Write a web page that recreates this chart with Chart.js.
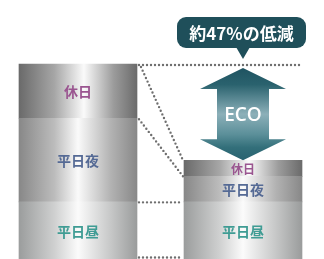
<!DOCTYPE html>
<html lang="ja">
<head>
<meta charset="utf-8">
<script src="https://cdn.jsdelivr.net/npm/chart.js@4"></script>
<style>
html, body { margin: 0; padding: 0; background: #fff; }
#wrap { width: 324px; height: 259px; }
</style>
</head>
<body>
<div id="wrap"><canvas id="ecoChart"></canvas></div>
<script>
// データ（左：従来、右：ECO）
const categories = ['従来', 'ECO'];
const segmentLabels = ['平日昼', '平日夜', '休日'];
const dayValues = [29.3, 29.3];
const nightValues = [42.9, 13.1];
const holidayValues = [27.8, 8.2];
const calloutText = '約47%の低減';
const arrowText = 'ECO';

const BAR_W = 118;
const FONT = '"Noto Sans CJK JP", "Noto Sans", sans-serif';

// 区分ごとの文字色と金属調グラデーション
const labelColors = ['#3f9c94', '#556a95', '#9a5590'];
const metalStops = [
    [[0, '#9b9d9d'], [0.3, '#cfd0d0'], [0.5, '#fbfbfb'], [0.78, '#c6c7c7'], [1, '#9a9c9c']],
    [[0, '#888888'], [0.3, '#bcbcbc'], [0.5, '#fafafa'], [0.78, '#b2b2b2'], [1, '#888888']],
    [[0, '#6a6a6a'], [0.3, '#a6a6a6'], [0.55, '#fafafa'], [0.8, '#9c9c9c'], [1, '#6b6b6b']]
];

function metal(i) {
    return (ctx) => {
        const chart = ctx.chart;
        if (!chart.chartArea) return metalStops[i][0][1];
        const x = chart.scales.x.getPixelForValue(ctx.dataIndex);
        const g = chart.ctx.createLinearGradient(x - BAR_W / 2, 0, x + BAR_W / 2, 0);
        metalStops[i].forEach(([o, c]) => g.addColorStop(o, c));
        return g;
    };
}

function dotted(ctx, x1, y1, x2, y2) {
    ctx.save();
    ctx.strokeStyle = '#6f6f6f';
    ctx.lineWidth = 2.4;
    ctx.lineCap = 'round';
    ctx.setLineDash([0, 4]);
    ctx.beginPath();
    ctx.moveTo(x1, y1);
    ctx.lineTo(x2, y2);
    ctx.stroke();
    ctx.restore();
}

// ラベル・点線・矢印・吹き出し
const decor = {
    id: 'decor',
    afterDatasetsDraw(chart) {
        const ctx = chart.ctx;
        const metas = [0, 1, 2].map(i => chart.getDatasetMeta(i));

        // 区分ラベル
        ctx.save();
        ctx.textAlign = 'center';
        ctx.textBaseline = 'middle';
        metas.forEach((meta, i) => {
            meta.data.forEach((bar) => {
                const small = (bar.base - bar.y) < 20;
                ctx.font = `bold ${small ? 12 : 14}px ${FONT}`;
                ctx.fillStyle = labelColors[i];
                ctx.fillText(segmentLabels[i], bar.x, (bar.y + bar.base) / 2 + 1);
            });
        });
        ctx.restore();

        // 点線
        const L = metas.map(m => m.data[0]);
        const R = metas.map(m => m.data[1]);
        const lx = L[0].x + BAR_W / 2 + 2;
        const rx = R[0].x - BAR_W / 2 - 1;
        dotted(ctx, lx, L[2].y + 1, R[0].x + BAR_W / 2, L[2].y + 1);
        dotted(ctx, lx + 2, L[2].y + 3, rx, R[2].y);
        dotted(ctx, lx, L[2].base + 1, rx, R[2].base);
        dotted(ctx, lx, L[1].base + 0.5, rx, R[1].base + 0.5);
        dotted(ctx, lx, L[0].base - 1.5, rx, R[0].base - 1.5);

        // 両矢印
        const cx = R[0].x;
        const top = L[2].y + 4;
        const bot = R[2].y;
        const headH = 21, headW = 43, shaftW = 26;
        const ag = ctx.createLinearGradient(0, top, 0, bot);
        ag.addColorStop(0, '#1f5361');
        ag.addColorStop(0.18, '#2a626e');
        ag.addColorStop(0.5, '#8cb0b9');
        ag.addColorStop(0.72, '#5b8f99');
        ag.addColorStop(0.86, '#336f7a');
        ag.addColorStop(1, '#286270');
        ctx.save();
        ctx.fillStyle = ag;
        ctx.beginPath();
        ctx.moveTo(cx, top);
        ctx.lineTo(cx + headW, top + headH);
        ctx.lineTo(cx + shaftW, top + headH);
        ctx.lineTo(cx + shaftW, bot - headH);
        ctx.lineTo(cx + headW, bot - headH);
        ctx.lineTo(cx, bot);
        ctx.lineTo(cx - headW, bot - headH);
        ctx.lineTo(cx - shaftW, bot - headH);
        ctx.lineTo(cx - shaftW, top + headH);
        ctx.lineTo(cx - headW, top + headH);
        ctx.closePath();
        ctx.fill();
        ctx.fillStyle = '#ffffff';
        ctx.font = `600 19px "Open Sans", ${FONT}`;
        ctx.textAlign = 'center';
        ctx.textBaseline = 'middle';
        ctx.fillText(arrowText, cx, (top + bot) / 2 + 1);
        ctx.restore();

        // 吹き出し
        const bx = cx - 66, bw = 129, by = L[2].y - 47, bh = 31, r = 9;
        const tip = L[2].y - 5;
        ctx.save();
        ctx.fillStyle = '#1f4f5a';
        ctx.beginPath();
        ctx.roundRect(bx, by, bw, bh, r);
        ctx.fill();
        ctx.beginPath();
        ctx.moveTo(cx - 7, by + bh - 1);
        ctx.lineTo(cx + 7, by + bh - 1);
        ctx.lineTo(cx, tip);
        ctx.closePath();
        ctx.fill();
        ctx.fillStyle = '#ffffff';
        ctx.font = `bold 17px ${FONT}`;
        ctx.textAlign = 'center';
        ctx.textBaseline = 'middle';
        ctx.fillText(calloutText, bx + bw / 2, by + bh / 2 + 1);
        ctx.restore();
    }
};

const series = [dayValues, nightValues, holidayValues];

new Chart(document.getElementById('ecoChart'), {
    type: 'bar',
    data: {
        labels: categories,
        datasets: series.map((values, i) => ({
            label: segmentLabels[i],
            data: values,
            backgroundColor: metal(i),
            borderWidth: 0,
            barThickness: BAR_W,
            clip: false
        }))
    },
    options: {
        responsive: true,
        maintainAspectRatio: false,
        animation: false,
        events: [],
        layout: { padding: { left: 78, right: 81, top: 64, bottom: 0 } },
        plugins: { legend: { display: false }, tooltip: { enabled: false } },
        scales: {
            x: { type: 'category', stacked: true, offset: false, display: false },
            y: { stacked: true, min: 0, max: 100, display: false }
        }
    },
    plugins: [decor]
});
</script>
</body>
</html>
